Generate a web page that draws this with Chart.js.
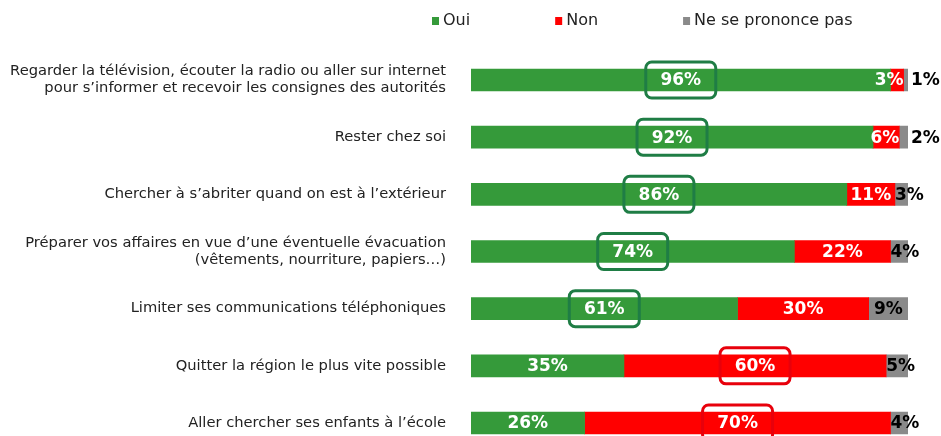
<!DOCTYPE html>
<html>
<head>
<meta charset="utf-8">
<script src="https://cdn.jsdelivr.net/npm/chart.js@4.4.0/dist/chart.umd.min.js"></script>
<style>
  html, body { margin: 0; padding: 0; background: #fff; overflow: hidden; }
  canvas { display: block; }
</style>
</head>
<body>
<canvas id="chart" width="941" height="480" style="width:941px;height:480px"></canvas>
<script>
const categories = [
  ['Regarder la télévision, écouter la radio ou aller sur internet', 'pour s’informer et recevoir les consignes des autorités'],
  'Rester chez soi',
  'Chercher à s’abriter quand on est à l’extérieur',
  ['Préparer vos affaires en vue d’une éventuelle évacuation', '(vêtements, nourriture, papiers…)'],
  'Limiter ses communications téléphoniques',
  'Quitter la région le plus vite possible',
  'Aller chercher ses enfants à l’école'
];
const oui = [96, 92, 86, 74, 61, 35, 26];
const non = [3, 6, 11, 22, 30, 60, 70];
const nspp = [1, 2, 3, 4, 9, 5, 4];

const FONT = '"DejaVu Sans", Verdana, sans-serif';
const boxColors = ['#1f7d45', '#e8000b'];

// labels inside the bars + rounded box around the biggest answer
const valueLabels = {
  id: 'valueLabels',
  afterDatasetsDraw(chart) {
    const ctx = chart.ctx;
    const sets = chart.data.datasets;
    ctx.save();
    ctx.font = 'bold 17px ' + FONT;
    ctx.textBaseline = 'middle';
    sets.forEach((ds, di) => {
      chart.getDatasetMeta(di).data.forEach((bar, i) => {
        const v = ds.data[i];
        const txt = v + '%';
        const w = ctx.measureText(txt).width;
        const x0 = Math.min(bar.base, bar.x), x1 = Math.max(bar.base, bar.x);
        let x = (x0 + x1) / 2;
        ctx.textAlign = 'center';
        if (di === 2) {
          ctx.fillStyle = '#000';
          if (v < 3) { ctx.textAlign = 'left'; x = x1 + 3; }
          else x = Math.max(x0 + w / 2, x);
        } else {
          ctx.fillStyle = '#fff';
          x = Math.min(x, x1 - w / 2);
        }
        ctx.fillText(txt, x, bar.y + 1);

        const rowMax = Math.max(...sets.map(d => d.data[i]));
        if (di < 2 && v === rowMax) {
          ctx.beginPath();
          ctx.lineWidth = 3;
          ctx.strokeStyle = boxColors[di];
          ctx.roundRect(x - 35, bar.y - 18, 70, 36, 6);
          ctx.stroke();
        }
      });
    });
    ctx.restore();
  }
};

// legend at the top, spaced like the original
const topLegend = {
  id: 'topLegend',
  afterDraw(chart) {
    const ctx = chart.ctx;
    ctx.save();
    ctx.font = '16px ' + FONT;
    ctx.textBaseline = 'middle';
    ctx.textAlign = 'left';
    let x = 432;
    chart.data.datasets.forEach(ds => {
      ctx.fillStyle = ds.backgroundColor;
      ctx.fillRect(x, 17, 7, 8);
      ctx.fillStyle = '#222';
      ctx.fillText(ds.label, x + 11, 21);
      x += 11 + ctx.measureText(ds.label).width + 85;
    });
    ctx.restore();
  }
};

new Chart(document.getElementById('chart'), {
  type: 'bar',
  data: {
    labels: categories,
    datasets: [
      { label: 'Oui', data: oui, backgroundColor: '#359a3a' },
      { label: 'Non', data: non, backgroundColor: '#ff0000' },
      { label: 'Ne se prononce pas', data: nspp, backgroundColor: '#8a8a8a' }
    ]
  },
  options: {
    indexAxis: 'y',
    responsive: false,
    animation: false,
    datasets: { bar: { barThickness: 22 } },
    layout: { padding: { left: 0, right: 33, top: 51.4, bottom: 28.4 } },
    plugins: { legend: { display: false }, tooltip: { enabled: false } },
    scales: {
      x: { stacked: true, min: 0, max: 100, display: false },
      y: {
        stacked: true,
        border: { display: false },
        grid: { display: false, drawTicks: false },
        ticks: {
          padding: 25,
          color: '#222',
          font: { family: FONT, size: 14.7, lineHeight: 1.16 }
        },
        afterFit(scale) {
          scale.width = 471;
          scale.paddingTop = 0;
          scale.paddingBottom = 0;
        }
      }
    }
  },
  plugins: [valueLabels, topLegend]
});
</script>
</body>
</html>
